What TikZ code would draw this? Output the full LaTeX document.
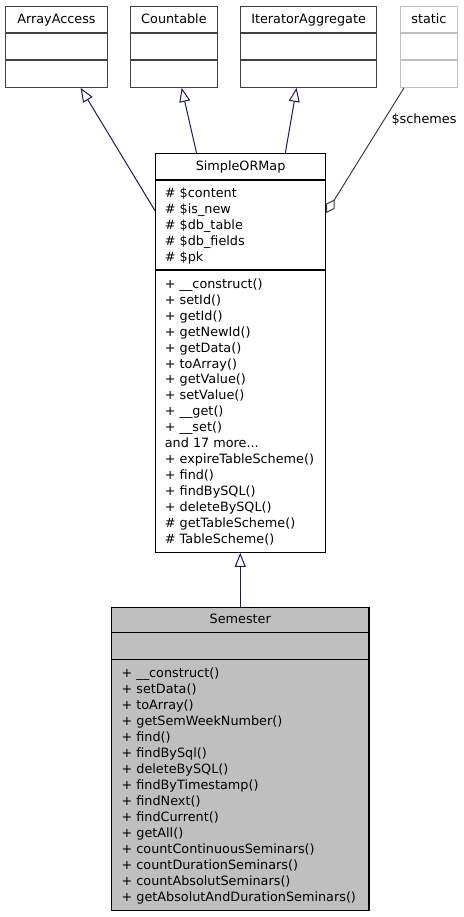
\documentclass[tikz,border=0pt]{standalone}
\usepackage{fontspec}
\setmainfont{DejaVu Sans}
\usetikzlibrary{arrows.meta,calc}
\definecolor{edgeblue}{HTML}{191970}
\definecolor{boxgray}{HTML}{404040}
\definecolor{lightgray}{HTML}{BFBFBF}
\definecolor{semfill}{HTML}{BFBFBF}
\newcommand\andmoretext{and 17 more...}
\tikzset{
  cls/.style={draw, rectangle, inner sep=0pt, line width=1.2pt, anchor=north west},
  ttl/.style={inner sep=0pt, anchor=base, font=\fontsize{12.8}{16}\selectfont},
  txt/.style={inner sep=0pt, anchor=base west, font=\fontsize{12.8}{16}\selectfont},
  divline/.style={line width=1.2pt},
  inh/.style={draw=edgeblue, line width=1pt, -{Triangle[open, length=14pt, width=11pt, fill=white]}},
  agg/.style={draw=boxgray, line width=1pt, -{Diamond[open, length=16pt, width=10pt, fill=white]}},
}
\begin{document}
\begin{tikzpicture}[x=1pt,y=1pt]
\useasboundingbox (0,0) rectangle (463,-917);
\fill[white] (0,0) rectangle (463,-917);

% top classes
\node[cls, draw=boxgray, minimum width=101.7pt, minimum height=80.7pt] (aa) at (5,-6) {};
\node[cls, draw=boxgray, minimum width=86.7pt, minimum height=80.7pt] (ct) at (130,-6) {};
\node[cls, draw=boxgray, minimum width=136pt, minimum height=80.7pt] (ia) at (240,-6) {};
\node[cls, draw=lightgray, minimum width=56.7pt, minimum height=80.7pt] (st) at (400,-6) {};
\foreach \n/\c in {aa/boxgray, ct/boxgray, ia/boxgray, st/lightgray}{
  \draw[divline, \c] ([yshift=-27pt]\n.north west) -- ([yshift=-27pt]\n.north east);
  \draw[divline, \c] ([yshift=-54pt]\n.north west) -- ([yshift=-54pt]\n.north east);
}
\node[ttl] (aat) at ($(aa.north)+(0,-17.7)$) {ArrayAccess};
\node[ttl] (ctt) at ($(ct.north)+(0,-17.7)$) {Countable};
\node[ttl] (iat) at ($(ia.north)+(0,-17.7)$) {IteratorAggregate};
\node[ttl] (stt) at ($(st.north)+(0,-17.7)$) {static};

% SimpleORMap
\node[cls, minimum width=170pt, minimum height=398.4pt] (sorm) at (155,-153.3) {};
\draw[divline] ([yshift=-26.7pt]sorm.north west) -- ([yshift=-26.7pt]sorm.north east);
\draw[divline] ([yshift=-116.7pt]sorm.north west) -- ([yshift=-116.7pt]sorm.north east);
\node[ttl] (sormt) at ($(sorm.north)+(0,-17.7)$) {SimpleORMap};
\foreach \t [count=\i from 0] in {\# \$content, \# \$is\_new, \# \$db\_table, \# \$db\_fields, \# \$pk}{
  \node[txt] (sa\i) at (164.7,-197.3-16*\i) {\t};
}
\foreach \t [count=\i from 0] in {+ \_\_construct(), + setId(), + getId(), + getNewId(), + getData(), + toArray(), + getValue(), + setValue(), + \_\_get(), + \_\_set(), \andmoretext, + expireTableScheme(), + find(), + findBySQL(), + deleteBySQL(), \# getTableScheme(), \# TableScheme()}{
  \node[txt] (sm\i) at (164.7,-288.3-15.94*\i) {\t};
}

% Semester
\node[cls, fill=semfill, minimum width=257.3pt, minimum height=303.3pt] (sem) at (111,-606.7) {};
\draw[divline] ([yshift=-26pt]sem.north west) -- ([yshift=-26pt]sem.north east);
\draw[divline] ([yshift=-52.6pt]sem.north west) -- ([yshift=-52.6pt]sem.north east);
\node[ttl] (semt) at ($(sem.north)+(0,-17.2)$) {Semester};
\foreach \t [count=\i from 0] in {+ \_\_construct(), + setData(), + toArray(), + getSemWeekNumber(), + find(), + findBySql(), + deleteBySQL(), + findByTimestamp(), + findNext(), + findCurrent(), + getAll(), + countContinuousSeminars(), + countDurationSeminars(), + countAbsolutSeminars(), + getAbsolutAndDurationSeminars()}{
  \node[txt] (ss\i) at (121.4,-677.3-16*\i) {\t};
}

% connectors
\draw[inh] ([yshift=-57.4pt]sorm.north west) -- ([xshift=24.2pt]aa.south);
\draw[inh] ([xshift=-44pt]sorm.north) -- ([xshift=7.7pt]ct.south);
\draw[inh] ([xshift=44.7pt]sorm.north) -- ([xshift=-12pt]ia.south);
\draw[inh] (sem.north) -- (sem.north |- sorm.south);
\draw[agg] ([xshift=-25pt]st.south) -- ([yshift=-59.7pt]sorm.north east);
\node[inner sep=0pt, font=\fontsize{12.8}{16}\selectfont] (lbl) at (424,-120) {\$schemes};
\end{tikzpicture}
\end{document}
